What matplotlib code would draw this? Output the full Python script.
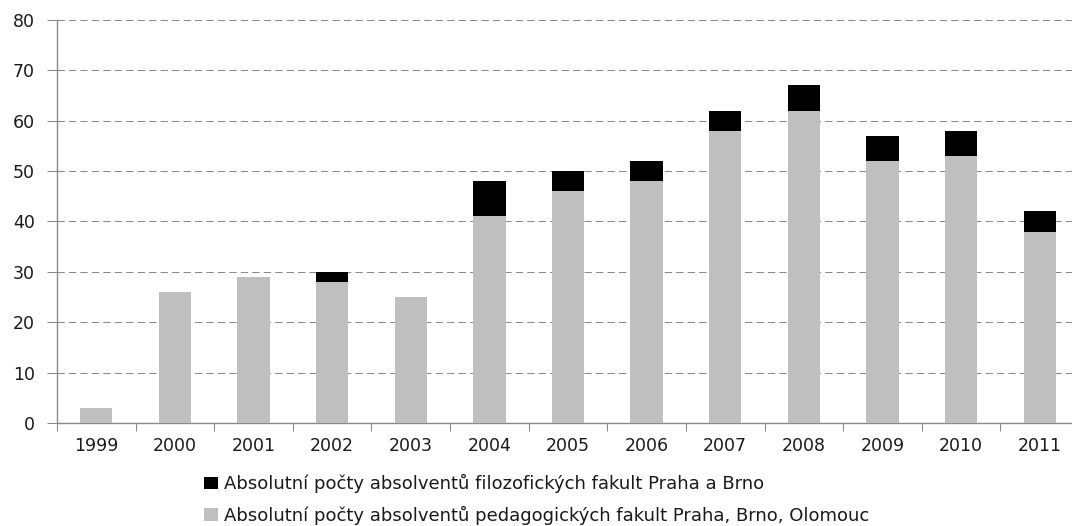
import matplotlib
matplotlib.use("Agg")
import matplotlib.pyplot as plt
import numpy as np
from matplotlib.patches import Patch

plt.rcParams['font.family'] = ['DejaVu Sans']

years = ["1999", "2000", "2001", "2002", "2003", "2004", "2005",
         "2006", "2007", "2008", "2009", "2010", "2011"]
pedagogicke = [3, 26, 29, 28, 25, 41, 46, 48, 58, 62, 52, 53, 38]
filozoficke = [0, 0, 0, 2, 0, 7, 4, 4, 4, 5, 5, 5, 4]

label_filo = "Absolutní počty absolventů filozofických fakult Praha a Brno"
label_ped = "Absolutní počty absolventů pedagogických fakult Praha, Brno, Olomouc"

W, H = 1072, 526
fig = plt.figure(figsize=(W / 100, H / 100), dpi=100)
ax = fig.add_axes([57 / W, 1 - 423 / H, (1079 - 57) / W, (423 - 20) / H])

x = np.arange(len(years))
w = 0.41
ped = np.array(pedagogicke, dtype=float)
filo = np.array(filozoficke, dtype=float)
ax.bar(x, ped, width=w, color="#bfbfbf", edgecolor="none", zorder=3)
mask = filo > 0
ax.bar(x[mask], filo[mask], width=w, bottom=ped[mask], color="black",
       edgecolor="none", zorder=3)

ax.set_xlim(-0.5, len(years) - 0.5)
ax.set_ylim(0, 80)
ax.set_yticks(range(0, 81, 10))
ax.yaxis.grid(True, linestyle=(0, (7, 4)), color="#8a8a8a", linewidth=0.75, zorder=0)
ax.tick_params(axis="y", length=7, width=0.75, color="#8a8a8a", labelsize=12.5,
               pad=9, labelcolor="#1a1a1a")

ax.set_xticks(x)
ax.set_xticklabels(years)
ax.tick_params(axis="x", length=0, labelsize=12.5, pad=10, labelcolor="#1a1a1a")
ax.set_xticks(np.arange(-0.5, len(years), 1), minor=True)
ax.tick_params(axis="x", which="minor", length=6, width=0.75, color="#8a8a8a",
               direction="out")

for s in ["top", "right"]:
    ax.spines[s].set_visible(False)
for s in ["left", "bottom"]:
    ax.spines[s].set_color("#8a8a8a")
    ax.spines[s].set_linewidth(1.0)

handles = [Patch(facecolor="black", edgecolor="none", label=label_filo),
           Patch(facecolor="#bfbfbf", edgecolor="none", label=label_ped)]
fig.legend(handles=handles, loc="upper left",
           bbox_to_anchor=(204 / W, 1 - 474 / H),
           frameon=False, fontsize=13, handlelength=0.78, handleheight=0.66,
           handletextpad=0.3, labelspacing=0.7, borderpad=0, borderaxespad=0,
           labelcolor="#1a1a1a")

fig.savefig("out.png", dpi=100)
